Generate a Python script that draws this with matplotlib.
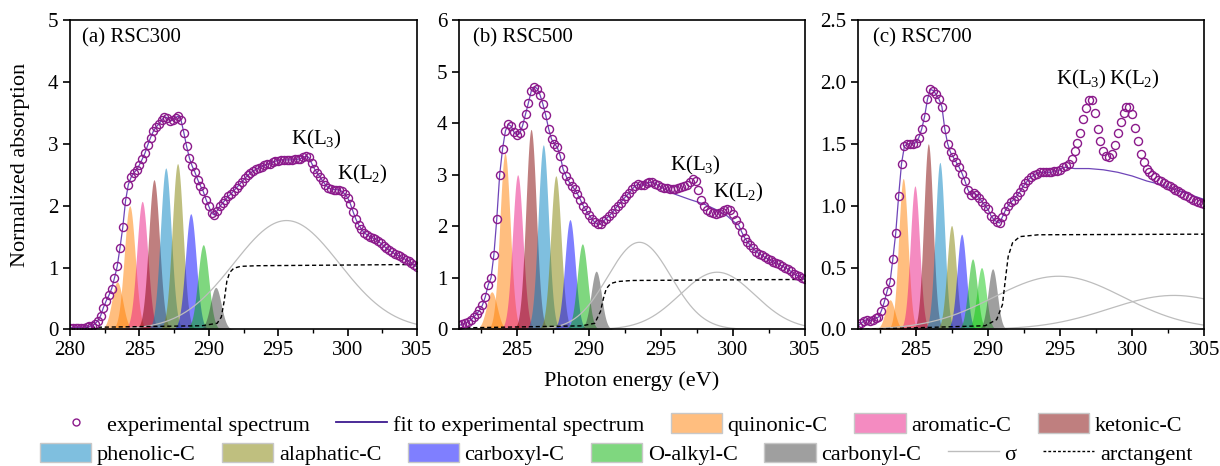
import numpy as np
import matplotlib.pyplot as plt
from matplotlib.lines import Line2D
from matplotlib.patches import Patch
from matplotlib.ticker import MultipleLocator, FormatStrFormatter
from matplotlib.colors import to_rgba

plt.rcParams['font.family'] = 'Liberation Serif'
plt.rcParams['mathtext.fontset'] = 'custom'
plt.rcParams['mathtext.rm'] = 'Liberation Serif'

# ---- experimental spectra, read every 0.2 eV ----
exp_a = [0.03, 0.03, 0.03, 0.03, 0.03, 0.03, 0.04, 0.05, 0.06, 0.09,   # 280.0
         0.14, 0.22, 0.35, 0.46, 0.55, 0.66, 0.83, 1.02, 1.32, 1.65,   # 282.0
         2.08, 2.34, 2.46, 2.53, 2.58, 2.66, 2.75, 2.85, 2.98, 3.10,   # 284.0
         3.20, 3.27, 3.32, 3.38, 3.44, 3.42, 3.37, 3.38, 3.42, 3.45,   # 286.0
         3.38, 3.18, 2.96, 2.77, 2.64, 2.54, 2.42, 2.32, 2.23, 2.10,   # 288.0
         1.99, 1.88, 1.85, 1.92, 1.99, 2.04, 2.10, 2.15, 2.19, 2.24,   # 290.0
         2.29, 2.34, 2.39, 2.44, 2.49, 2.53, 2.56, 2.59, 2.61, 2.63,   # 292.0
         2.65, 2.67, 2.68, 2.70, 2.72, 2.73, 2.74, 2.74, 2.74, 2.74,   # 294.0
         2.74, 2.75, 2.75, 2.76, 2.78, 2.80, 2.78, 2.69, 2.60, 2.53,   # 296.0
         2.47, 2.40, 2.34, 2.29, 2.27, 2.26, 2.26, 2.25, 2.23, 2.19,   # 298.0
         2.13, 2.03, 1.90, 1.78, 1.69, 1.62, 1.56, 1.53, 1.50, 1.48,   # 300.0
         1.46, 1.43, 1.39, 1.35, 1.31, 1.28, 1.25, 1.22, 1.20, 1.18,   # 302.0
         1.15, 1.13, 1.10, 1.07, 1.04, 1.01]                           # 304.0

exp_b = [0.08, 0.10, 0.12, 0.15, 0.18, 0.24, 0.30, 0.37, 0.47, 0.63,   # 281.0
         0.86, 1.00, 1.45, 2.15, 3.00, 3.50, 3.85, 3.98, 3.94, 3.82,   # 283.0
         3.77, 3.80, 3.96, 4.18, 4.40, 4.63, 4.71, 4.67, 4.55, 4.37,   # 285.0
         4.15, 3.89, 3.69, 3.60, 3.53, 3.37, 3.11, 2.98, 2.87, 2.79,   # 287.0
         2.72, 2.63, 2.52, 2.40, 2.31, 2.22, 2.14, 2.08, 2.04, 2.05,   # 289.0
         2.10, 2.15, 2.20, 2.26, 2.33, 2.40, 2.46, 2.53, 2.59, 2.65,   # 291.0
         2.72, 2.78, 2.82, 2.80, 2.80, 2.84, 2.85, 2.85, 2.83, 2.80,   # 293.0
         2.77, 2.75, 2.74, 2.73, 2.73, 2.73, 2.74, 2.76, 2.78, 2.81,   # 295.0
         2.86, 2.91, 2.88, 2.70, 2.52, 2.40, 2.32, 2.27, 2.25, 2.24,   # 297.0
         2.25, 2.28, 2.31, 2.34, 2.32, 2.24, 2.13, 2.02, 1.89, 1.78,   # 299.0
         1.70, 1.63, 1.57, 1.51, 1.47, 1.44, 1.40, 1.37, 1.34, 1.31,   # 301.0
         1.29, 1.26, 1.23, 1.20, 1.17, 1.13, 1.08, 1.05, 1.03, 1.00,   # 303.0
         0.97]                                                         # 305.0

exp_c = [0.03, 0.05, 0.07, 0.08, 0.07, 0.08, 0.09, 0.10, 0.15, 0.22,   # 281.0
         0.31, 0.38, 0.57, 0.78, 1.08, 1.34, 1.48, 1.50, 1.50, 1.50,   # 283.0
         1.51, 1.55, 1.62, 1.72, 1.86, 1.94, 1.93, 1.90, 1.86, 1.80,   # 285.0
         1.62, 1.50, 1.43, 1.39, 1.35, 1.31, 1.26, 1.20, 1.13, 1.09,   # 287.0
         1.10, 1.09, 1.06, 1.03, 1.00, 0.97, 0.92, 0.89, 0.87, 0.86,   # 289.0
         0.91, 0.96, 1.00, 1.03, 1.05, 1.08, 1.11, 1.15, 1.18, 1.21,   # 291.0
         1.23, 1.25, 1.26, 1.27, 1.27, 1.27, 1.27, 1.27, 1.28, 1.28,   # 293.0
         1.29, 1.31, 1.32, 1.34, 1.38, 1.44, 1.51, 1.59, 1.70, 1.79,   # 295.0
         1.85, 1.85, 1.75, 1.62, 1.52, 1.44, 1.40, 1.39, 1.42, 1.49,   # 297.0
         1.59, 1.68, 1.75, 1.80, 1.80, 1.74, 1.63, 1.52, 1.42, 1.35,   # 299.0
         1.30, 1.27, 1.25, 1.23, 1.21, 1.20, 1.18, 1.17, 1.16, 1.14,   # 301.0
         1.13, 1.12, 1.10, 1.09, 1.08, 1.06, 1.05, 1.04, 1.03, 1.02,   # 303.0
         1.01]                                                         # 305.0

# fit line where it leaves the data (no K peaks in the fit)
fit_b_e = [294.8, 295.2, 296.0, 297.0, 298.0, 299.0, 299.6, 300.0, 300.4]
fit_b_y = [2.79, 2.73, 2.62, 2.52, 2.43, 2.30, 2.20, 2.10, 2.02]
fit_c_e = [295.4, 296.0, 297.0, 298.0, 299.0, 300.0, 301.0, 302.0, 303.0, 304.0, 305.0]
fit_c_y = [1.31, 1.30, 1.30, 1.29, 1.27, 1.24, 1.20, 1.17, 1.13, 1.09, 1.05]

# ---- gaussian components: centre, height, width ----
pk_pos_a = [283.4, 284.3, 285.2, 286.05, 286.9, 287.75, 288.7, 289.6, 290.5]
pk_h_a = [0.77, 2.00, 2.07, 2.42, 2.61, 2.68, 1.87, 1.37, 0.68]
pk_w_a = [0.39, 0.39, 0.39, 0.39, 0.39, 0.39, 0.39, 0.39, 0.39]

pk_pos_b = [283.25, 284.17, 285.05, 285.98, 286.83, 287.7, 288.68, 289.54, 290.5]
pk_h_b = [0.73, 3.42, 3.00, 3.88, 3.58, 2.98, 2.13, 1.66, 1.13]
pk_w_b = [0.37, 0.36, 0.36, 0.36, 0.36, 0.36, 0.36, 0.36, 0.36]

pk_pos_c = [283.2, 284.12, 284.93, 285.86, 286.66, 287.47, 288.17, 288.93, 289.55, 290.32]
pk_h_c = [0.24, 1.22, 1.16, 1.50, 1.35, 0.84, 0.77, 0.57, 0.50, 0.49]
pk_w_c = [0.33, 0.32, 0.32, 0.32, 0.32, 0.32, 0.32, 0.32, 0.32, 0.32]

# sigma* broad peaks
sig_pos_a, sig_h_a, sig_w_a = [295.6], [1.76], [3.8]
sig_pos_b, sig_h_b, sig_w_b = [293.5, 298.9], [1.69, 1.11], [2.2, 2.6]
sig_pos_c, sig_h_c, sig_w_c = [294.9, 302.9], [0.43, 0.275], [4.5, 4.5]

# arctangent step
atan_a_e = [280, 289.5, 290.6, 290.9, 291.1, 291.3, 291.5, 291.8, 292.3, 293.5, 305]
atan_a_y = [0.03, 0.06, 0.10, 0.20, 0.45, 0.78, 0.92, 0.99, 1.02, 1.03, 1.05]
atan_b_e = [281, 289.5, 290.4, 290.8, 291.0, 291.2, 291.5, 292.0, 293.0, 305]
atan_b_y = [0.03, 0.07, 0.12, 0.35, 0.60, 0.79, 0.89, 0.93, 0.95, 0.97]
atan_c_e = [281, 289.8, 290.6, 291.0, 291.2, 291.4, 291.7, 292.2, 293.5, 305]
atan_c_y = [0.0, 0.03, 0.08, 0.20, 0.40, 0.59, 0.70, 0.75, 0.765, 0.77]

labels_comp = ['quinonic-C', 'aromatic-C', 'ketonic-C', 'phenolic-C', 'alaphatic-C',
               'carboxyl-C', 'O-alkyl-C', 'carbonyl-C']
comp_colors = ['#FF7F00', '#EB1985', '#800000', '#0080C0', '#808000', '#0000FF', '#00B000', '#404040']
pk_col_ab = ['#FF7F00', '#FF7F00', '#EB1985', '#800000', '#0080C0', '#808000', '#0000FF', '#00B000', '#404040']
pk_col_c = ['#FF7F00', '#FF7F00', '#EB1985', '#800000', '#0080C0', '#808000', '#0000FF', '#00B000', '#10C810', '#404040']

purple = '#8B1A8B'
fit_color = '#6F45B8'

fig = plt.figure(figsize=(12.2, 4.66), dpi=100)
ax_a = fig.add_axes([0.0574, 0.293, 0.2844, 0.664])
ax_b = fig.add_axes([0.3765, 0.293, 0.2834, 0.664])
ax_c = fig.add_axes([0.7035, 0.293, 0.2836, 0.664])


def draw(ax, e0, exp, fit_e, fit_y, pos, h, w, cols, spos, sh, sw, ae, ay):
    en = np.round(np.arange(len(exp)) * 0.2 + e0, 1)
    exp = np.array(exp)
    xx = np.linspace(e0, 305, 1500)
    for c, hh, ww, col in zip(pos, h, w, cols):
        g = hh * np.exp(-0.5 * ((xx - c) / ww) ** 2)
        ax.fill_between(xx, 0, g, color=col, alpha=0.5, lw=0)
    for c, hh, ww in zip(spos, sh, sw):
        ax.plot(xx, hh * np.exp(-0.5 * ((xx - c) / ww) ** 2), color='#BDBDBD', lw=0.9)
    ax.plot(ae, ay, color='black', lw=1.0, ls=(0, (3, 2)))
    # fit line: follows the data except where the fitted curve is given
    if fit_e:
        m1 = en < fit_e[0]
        m2 = en > fit_e[-1]
        fx = np.concatenate([en[m1], fit_e, en[m2]])
        fy = np.concatenate([exp[m1], fit_y, exp[m2]])
    else:
        fx, fy = en, exp
    ax.plot(fx, fy, color=fit_color, lw=0.9)
    ax.plot(en, exp, ls='none', marker='o', ms=5.8, mfc='none', mec=purple, mew=1.0)


draw(ax_a, 280.0, exp_a, [], [], pk_pos_a, pk_h_a, pk_w_a, pk_col_ab,
     sig_pos_a, sig_h_a, sig_w_a, atan_a_e, atan_a_y)
draw(ax_b, 281.0, exp_b, fit_b_e, fit_b_y, pk_pos_b, pk_h_b, pk_w_b, pk_col_ab,
     sig_pos_b, sig_h_b, sig_w_b, atan_b_e, atan_b_y)
draw(ax_c, 281.0, exp_c, fit_c_e, fit_c_y, pk_pos_c, pk_h_c, pk_w_c, pk_col_c,
     sig_pos_c, sig_h_c, sig_w_c, atan_c_e, atan_c_y)

ax_a.set_xlim(280, 305)
ax_b.set_xlim(281, 305)
ax_c.set_xlim(281, 305)
ax_a.set_ylim(0, 5)
ax_b.set_ylim(0, 6)
ax_c.set_ylim(0, 2.5)
ax_c.yaxis.set_major_locator(MultipleLocator(0.5))
ax_c.yaxis.set_major_formatter(FormatStrFormatter('%.1f'))

for ax, lab, lx in [(ax_a, '(a) RSC300', 0.035), (ax_b, '(b) RSC500', 0.04), (ax_c, '(c) RSC700', 0.043)]:
    ax.xaxis.set_major_locator(MultipleLocator(5))
    ax.xaxis.set_minor_locator(MultipleLocator(2.5))
    ax.tick_params(which='major', direction='out', length=5, width=1.2, labelsize=15)
    ax.tick_params(which='minor', direction='out', length=3, width=1.0)
    for s in ax.spines.values():
        s.set_linewidth(1.2)
    ax.text(lx, 0.943, lab, transform=ax.transAxes, fontsize=15, va='center', ha='left')

kl3 = r'K(L$_\mathregular{3}$)'
kl2 = r'K(L$_\mathregular{2}$)'
ax_a.text(297.74, 3.07, kl3, fontsize=15, ha='center', va='center')
ax_a.text(301.1, 2.5, kl2, fontsize=15, ha='center', va='center')
ax_b.text(297.37, 3.17, kl3, fontsize=15, ha='center', va='center')
ax_b.text(300.35, 2.65, kl2, fontsize=15, ha='center', va='center')
ax_c.text(296.5, 2.02, kl3, fontsize=15, ha='center', va='center')
ax_c.text(300.15, 2.02, kl2, fontsize=15, ha='center', va='center')

fig.text(0.0164, 0.646, 'Normalized absorption', rotation=90, fontsize=16, ha='center', va='center')
fig.text(0.518, 0.182, 'Photon energy (eV)', fontsize=16, ha='center', va='center')


def swatch(col):
    return Patch(facecolor=to_rgba(col, 0.5), edgecolor='#C8C8C8', lw=1)


row1 = [Line2D([], [], ls='none', marker='o', ms=5, mfc='none', mec=purple, mew=1),
        Line2D([], [], color='#3D1A8F', lw=1.3)] + [swatch(c) for c in comp_colors[:3]]
row1_lab = ['experimental spectrum', 'fit to experimental spectrum'] + labels_comp[:3]
row2 = [swatch(c) for c in comp_colors[3:]] + [Line2D([], [], color='#BDBDBD', lw=1.0),
                                               Line2D([], [], color='black', lw=1.0, ls=(0, (2, 1.5)))]
row2_lab = labels_comp[3:] + ['σ', 'arctangent']

leg_kw = dict(loc='center', frameon=False, fontsize=16, handlelength=2.3, handleheight=1.0,
              handletextpad=0.25, columnspacing=1.2, borderpad=0, borderaxespad=0, numpoints=1)
fig.legend(row1, row1_lab, bbox_to_anchor=(0.505, 0.089), ncol=5, **leg_kw)
fig.legend(row2, row2_lab, bbox_to_anchor=(0.505, 0.026), ncol=7, **leg_kw)

fig.savefig('out.png', dpi=100)
